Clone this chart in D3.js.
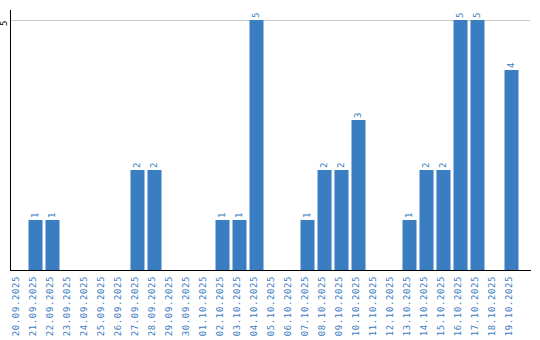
<!DOCTYPE html>
<html>
<head>
<meta charset="utf-8">
<script src="https://cdn.jsdelivr.net/npm/d3@7"></script>
<style>
body{margin:0;background:#fff;}
svg text{font-family:"DejaVu Sans Mono",monospace;font-size:9px;letter-spacing:0.6px;}
</style>
</head>
<body>
<svg id="chart"></svg>
<script>
// dates shown along the bottom
var dates = ["20.09.2025","21.09.2025","22.09.2025","23.09.2025","24.09.2025","25.09.2025",
    "26.09.2025","27.09.2025","28.09.2025","29.09.2025","30.09.2025","01.10.2025","02.10.2025",
    "03.10.2025","04.10.2025","05.10.2025","06.10.2025","07.10.2025","08.10.2025","09.10.2025",
    "10.10.2025","11.10.2025","12.10.2025","13.10.2025","14.10.2025","15.10.2025","16.10.2025",
    "17.10.2025","18.10.2025","19.10.2025"];
// counts per day
var counts = [0,1,1,0,0,0,0,2,2,0,0,0,1,1,5,0,0,1,2,2,3,0,0,1,2,2,5,5,0,4];
var yTicks = [5];

var screen = {width:540, height:340};
var margins = {top:20, left:10, right:10, bottom:70};
var graph = {
    width:screen.width-margins.left-margins.right,
    height:screen.height-margins.top-margins.bottom
};
var blue = "#3b7dc1";

var svg = d3.select("#chart")
    .attr("width",screen.width)
    .attr("height",screen.height);

var xScale = d3.scaleBand()
    .domain(dates)
    .range([margins.left, margins.left+17*dates.length])
    .paddingInner(3/17)
    .paddingOuter(1.5/17);

var yScale = d3.scaleLinear()
    .domain([0,5])
    .range([margins.top+graph.height, margins.top]);

//gridlines
svg.append("g")
    .selectAll("line")
    .data(yTicks)
    .enter()
    .append("line")
    .attr("x1",margins.left)
    .attr("x2",530)
    .attr("y1",function(d){return yScale(d)+0.5;})
    .attr("y2",function(d){return yScale(d)+0.5;})
    .attr("stroke","#c8c8c8");

//bars
svg.append("g")
    .selectAll("rect")
    .data(counts)
    .enter()
    .append("rect")
    .attr("x",function(d,i){return xScale(dates[i]);})
    .attr("width",xScale.bandwidth())
    .attr("y",function(d){return yScale(d);})
    .attr("height",function(d){return yScale(0)-yScale(d);})
    .attr("fill",blue);

//value labels
svg.append("g")
    .selectAll("text")
    .data(counts.map(function(d,i){return {v:d,date:dates[i]};})
        .filter(function(d){return d.v>0;}))
    .enter()
    .append("text")
    .text(function(d){return d.v;})
    .attr("fill",blue)
    .attr("dy","0.25em")
    .attr("transform",function(d){
        var x = xScale(d.date)+xScale.bandwidth()/2;
        return "translate("+x+","+(yScale(d.v)-2)+") rotate(-90)";
    });

//axes lines
svg.append("line")
    .attr("x1",margins.left+0.5).attr("x2",margins.left+0.5)
    .attr("y1",10).attr("y2",yScale(0)+1)
    .attr("stroke","#000");
svg.append("line")
    .attr("x1",margins.left).attr("x2",531)
    .attr("y1",yScale(0)+0.5).attr("y2",yScale(0)+0.5)
    .attr("stroke","#000");

//x tick labels
svg.append("g")
    .selectAll("text")
    .data(dates)
    .enter()
    .append("text")
    .text(function(d){return d;})
    .attr("fill",blue)
    .attr("text-anchor","end")
    .attr("dy","0.09em")
    .attr("transform",function(d){
        var x = xScale(d)+xScale.bandwidth()/2;
        return "translate("+x+","+(yScale(0)+6)+") rotate(-90)";
    });

//y tick labels
svg.append("g")
    .selectAll("text")
    .data(yTicks)
    .enter()
    .append("text")
    .text(function(d){return d;})
    .attr("fill","#000")
    .attr("text-anchor","middle")
    .attr("dy","0.75em")
    .attr("transform",function(d){
        return "translate(0,"+(yScale(d)+3)+") rotate(-90)";
    });
</script>
</body>
</html>
